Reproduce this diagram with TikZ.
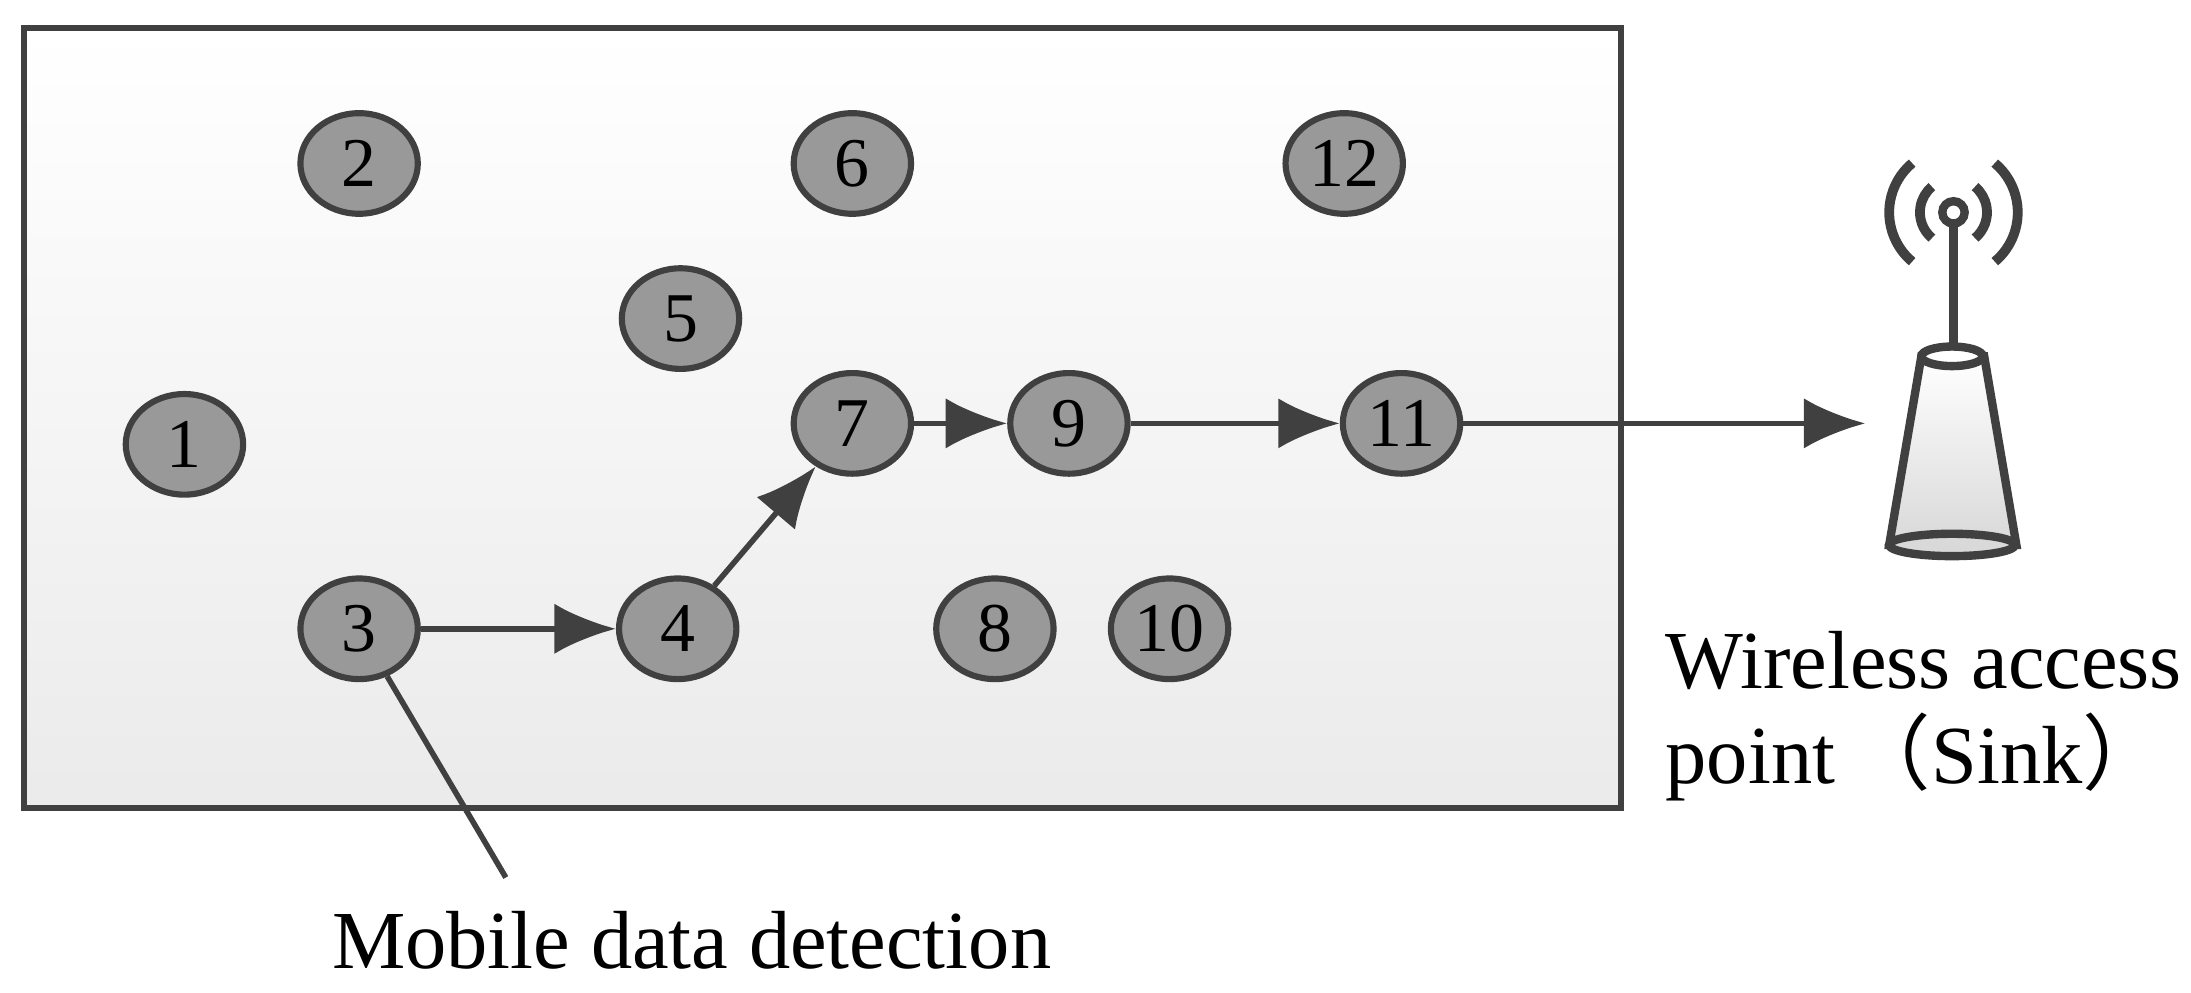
\documentclass[tikz,border=0pt]{standalone}
\usepackage{fontspec}
\setmainfont{Liberation Serif}
\newfontfamily\cjkf{Noto Sans CJK SC}
\usetikzlibrary{arrows.meta,shapes.geometric}
\begin{document}
\begin{tikzpicture}[x=0.5pt,y=-0.5pt,
 nd/.style={ellipse,draw=black!75,line width=2.2pt,fill=black!40,minimum width=42pt,minimum height=36pt,inner sep=0pt,font=\fontsize{25}{25}\selectfont},
 ar/.style={draw=black!75,line width=2pt,-{Latex[length=22pt,width=18pt]}},
 lbl/.style={font=\fontsize{29.5}{34}\selectfont,align=left}]
\useasboundingbox (0,0) rectangle (1568,710);
\draw[line width=2.2pt,draw=black!75,top color=white,bottom color=black!8] (17,20) rectangle (1160,578);
\node[nd] (n1) at (132,318) {1};
\node[nd] (n2) at (257,117) {2};
\node[nd] (n3) at (257,450) {3};
\node[nd] (n4) at (485,450) {4};
\node[nd] (n5) at (487,228) {5};
\node[nd] (n6) at (610,117) {6};
\node[nd] (n7) at (610,303) {7};
\node[nd] (n8) at (712,450) {8};
\node[nd] (n9) at (765,303) {9};
\node[nd] (n10) at (837,450) {10};
\node[nd] (n11) at (1003,303) {11};
\node[nd] (n12) at (962,117) {12};
\coordinate (sink) at (1335,303);
\coordinate (lbEnd) at (362,628);
\draw[ar] (n3) -- (n4);
\draw[ar] (n4) -- (n7);
\draw[ar] (n7) -- (n9);
\draw[ar] (n9) -- (n11);
\draw[ar] (n11) -- (sink);
\draw[draw=black!75,line width=2pt] (n3) -- (lbEnd);
\node[lbl,anchor=north] (ml) at (495,645) {Mobile data detection};
\node[lbl,anchor=north west] (wl) at (1185,445) {Wireless access\\point\,{\cjkf（}Sink{\cjkf）}};
% antenna
\draw[black!75,line width=3pt] (1398,160) -- (1398,262);
\draw[black!75,line width=3pt,fill=white] (1398,152) circle (8);
\draw[black!75,line width=3pt,top color=white,bottom color=black!15] (1375,255) -- (1420,255) -- (1443,390) -- (1352,390) -- cycle;
\draw[black!75,line width=3pt,fill=white] (1397,255) ellipse (22 and 7);
\draw[black!75,line width=3pt,fill=black!15] (1397,390) ellipse (45 and 8);
\foreach \r in {24,46} {
 \draw[black!75,line width=3.5pt] (1398,152) ++(130:\r) arc (130:230:\r);
 \draw[black!75,line width=3.5pt] (1398,152) ++(50:\r) arc (50:-50:\r);
}
\end{tikzpicture}
\end{document}
